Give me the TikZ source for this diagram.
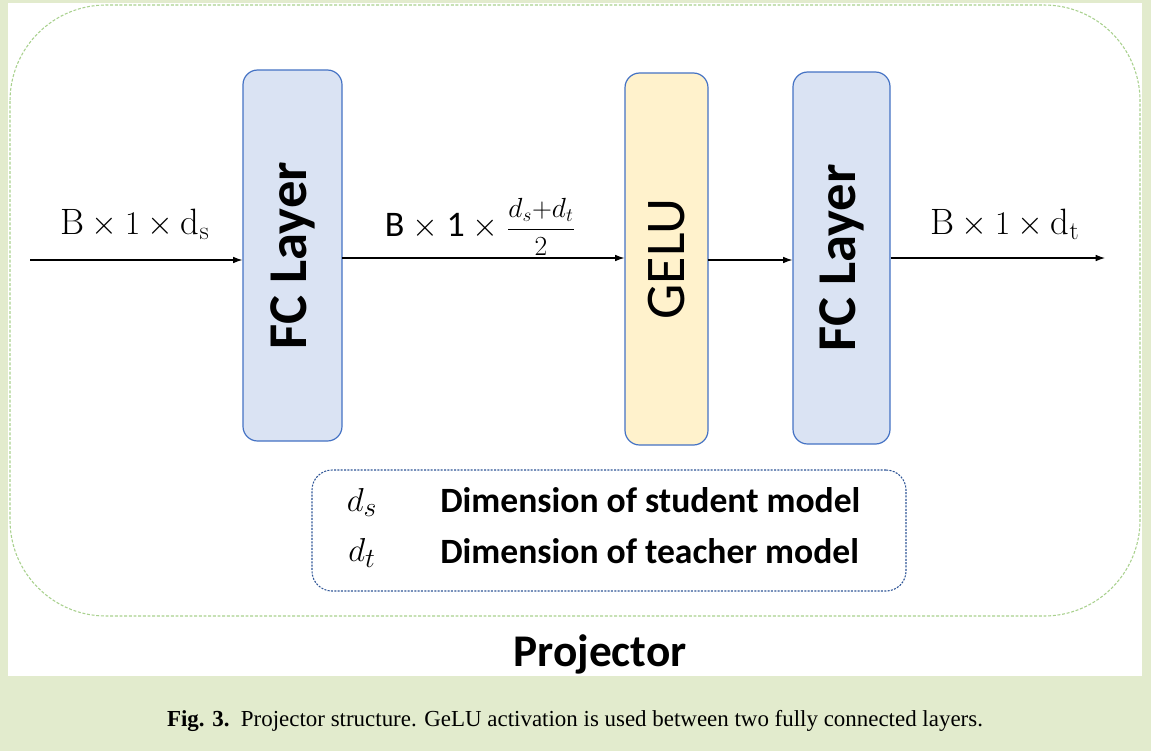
\documentclass[tikz,border=0pt]{standalone}
\usepackage{fontspec}
\setsansfont{Carlito}
\newfontfamily\capfont{Liberation Serif}
\usetikzlibrary{arrows.meta}
\definecolor{bgreen}{HTML}{E2EBCD}
\definecolor{dgreen}{HTML}{A9D18E}
\definecolor{fcfill}{HTML}{DAE3F3}
\definecolor{boxline}{HTML}{4472C4}
\definecolor{gelufill}{HTML}{FFF2CC}
\definecolor{legline}{HTML}{2F5597}
\begin{document}
\begin{tikzpicture}[x=0.75pt,y=-0.75pt,
  layerbox/.style={draw=boxline,line width=0.9pt,rounded corners=11pt,inner sep=0pt},
  fcstyle/.style={layerbox,fill=fcfill,font=\sffamily\bfseries\fontsize{41}{44}\selectfont},
  gelustyle/.style={layerbox,fill=gelufill,font=\sffamily\fontsize{42}{44}\selectfont},
  flow/.style={-{Latex[length=7pt,width=5pt]},line width=0.8pt,black},
  dimlabel/.style={font=\fontsize{27.5}{29}\selectfont,inner sep=0pt},
  legtext/.style={font=\sffamily\bfseries\fontsize{26.7}{28}\selectfont,anchor=west,inner sep=0pt}]
\useasboundingbox (0,0) rectangle (1151,751);
\fill[bgreen] (0,0) rectangle (1151,751);
\fill[white] (8,3) rectangle (1142,676);
\draw[dgreen,line width=0.8pt,dash pattern=on 2.2pt off 1.3pt,rounded corners=72pt] (10,5) rectangle (1140,616);

\node[fcstyle,minimum width=74.25pt,minimum height=278.25pt] (fc1) at (292.5,255.5) {\rotatebox{90}{FC Layer}};
\node[gelustyle,minimum width=62.25pt,minimum height=279pt] (gelu) at (666.5,259) {\rotatebox{90}{GELU}};
\node[fcstyle,minimum width=72.75pt,minimum height=279pt] (fc2) at (841.5,258) {\rotatebox{90}{FC Layer}};

\coordinate (in) at (30,260);
\coordinate (out) at (1105,258);
\coordinate (m1) at (342,258);
\coordinate (m2) at (708,260);
\draw[flow] (in) -- (in -| fc1.west);
\draw[flow] (m1) -- (m1 -| gelu.west);
\draw[flow] (m2) -- (m2 -| fc2.west);
\draw[flow] (out -| fc2.east) -- (out);

\node[dimlabel] (l1) at (135,224) {$\mathrm{B}\times 1\times \mathrm{d_s}$};
\node[dimlabel,font=\sffamily\fontsize{27}{29}\selectfont] (l2) at (480,227) {B $\times$ 1 $\times$ {\fontsize{21}{22}\selectfont$\displaystyle\frac{d_s{+}d_t}{2}$}};
\node[dimlabel] (l3) at (1005,224) {$\mathrm{B}\times 1\times \mathrm{d_t}$};

\node[draw=legline,line width=0.8pt,dash pattern=on 1.5pt off 1pt,rounded corners=15pt,minimum width=445.5pt,minimum height=90.75pt] (legend) at (609,530.5) {};
\node[dimlabel] (ds) at (362,502) {$d_s$};
\node[dimlabel] (dt) at (362,553) {$d_t$};
\node[legtext] (dst) at (440,500) {Dimension of student model};
\node[legtext] (dtt) at (440,551) {Dimension of teacher model};

\node[font=\sffamily\bfseries\fontsize{34}{36}\selectfont,inner sep=0pt] (proj) at (600,654) {Projector};

\node[font=\capfont\fontsize{17.2}{19}\selectfont,inner sep=0pt] (cap) at (575,721) {\textbf{Fig. 3.}\ \ Projector structure. GeLU activation is used between two fully connected layers.};
\end{tikzpicture}
\end{document}
